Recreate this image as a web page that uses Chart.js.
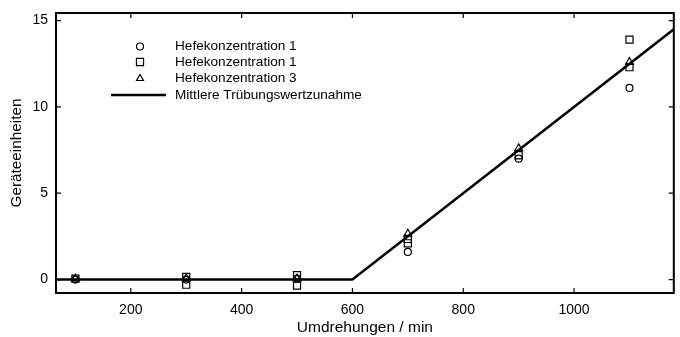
<!DOCTYPE html>
<html lang="de">
<head>
<meta charset="utf-8">
<title>Trübungswert</title>
<script src="https://cdn.jsdelivr.net/npm/chart.js@4/dist/chart.umd.min.js"></script>
<style>
  html, body { margin: 0; padding: 0; background: #fff; }
  #wrap { width: 680px; height: 337px; }
</style>
</head>
<body>
<div id="wrap"><canvas id="chart" width="680" height="337"></canvas></div>
<script>
// Messwerte (Umdrehungen / min -> Geräteeinheiten)
const circleX = [100, 300, 500, 700, 900, 1100];
const circleY = [0, 0, 0.05, 1.6, 7.0, 11.1];

const squareX = [100, 300, 300, 500, 500, 700, 700, 900, 1100, 1100];
const squareY = [0.05, 0.15, -0.3, 0.25, -0.35, 2.35, 2.1, 7.2, 13.9, 12.3];

const triangleX = [100, 300, 500, 700, 900, 1100];
const triangleY = [0.05, 0.05, 0.05, 2.65, 7.6, 12.6];

// mittlere Zunahme: konstant bis 600, dann linear
const trendX = [65, 600, 1180];
const trendY = [0, 0, 14.5];

const xTicks = [200, 400, 600, 800, 1000];
const yTicks = [0, 5, 10, 15];

const labels = ['Hefekonzentration 1', 'Hefekonzentration 1', 'Hefekonzentration 3', 'Mittlere Trübungswertzunahme'];

const FONT = "'Liberation Sans', Arial, Helvetica, sans-serif";

function pts(xs, ys) {
  return xs.map((x, i) => ({ x, y: ys[i] }));
}

function markerSet(label, xs, ys, style, radius) {
  return {
    type: 'scatter',
    label,
    data: pts(xs, ys),
    pointStyle: style,
    pointRadius: radius,
    pointHoverRadius: radius,
    pointBorderColor: '#000',
    pointBackgroundColor: 'rgba(0,0,0,0)',
    pointBorderWidth: 1.2,
    showLine: false
  };
}

// Rahmen mit nach innen zeigenden Strichen auf allen vier Seiten
const frame = {
  id: 'frame',
  afterDatasetsDraw(chart) {
    const { ctx, chartArea: a, scales: { x, y } } = chart;
    const t = 5;
    ctx.save();
    ctx.strokeStyle = '#000';
    ctx.lineWidth = 1.2;
    ctx.beginPath();
    xTicks.forEach(v => {
      const px = x.getPixelForValue(v);
      ctx.moveTo(px, a.bottom); ctx.lineTo(px, a.bottom - t);
      ctx.moveTo(px, a.top); ctx.lineTo(px, a.top + t);
    });
    yTicks.forEach(v => {
      const py = y.getPixelForValue(v);
      ctx.moveTo(a.left, py); ctx.lineTo(a.left + t, py);
      ctx.moveTo(a.right, py); ctx.lineTo(a.right - t, py);
    });
    ctx.stroke();
    ctx.lineWidth = 2;
    ctx.strokeRect(a.left, a.top, a.right - a.left, a.bottom - a.top);
    ctx.restore();
  }
};

// Legende oben links innerhalb der Zeichenfläche
const legendBox = {
  id: 'legendBox',
  afterDraw(chart) {
    const { ctx } = chart;
    const rows = [46.5, 62, 78.5, 95];
    const mx = 140, tx = 175;
    ctx.save();
    ctx.strokeStyle = '#000';
    ctx.fillStyle = 'rgba(0,0,0,0)';
    ctx.lineWidth = 1.2;
    const draw = Chart.helpers.drawPoint;
    draw(ctx, { pointStyle: 'circle', radius: 3.5, borderWidth: 1.2 }, mx, rows[0]);
    draw(ctx, { pointStyle: 'rect', radius: 5, borderWidth: 1.2 }, mx, rows[1]);
    draw(ctx, { pointStyle: 'triangle', radius: 4, borderWidth: 1.2 }, mx, rows[2]);
    ctx.lineWidth = 2.5;
    ctx.beginPath();
    ctx.moveTo(111, rows[3]);
    ctx.lineTo(166, rows[3]);
    ctx.stroke();
    ctx.fillStyle = '#000';
    ctx.font = '13.6px ' + FONT;
    ctx.textBaseline = 'middle';
    ctx.textAlign = 'left';
    labels.forEach((s, i) => ctx.fillText(s, tx, rows[i]));
    ctx.restore();
  }
};

new Chart(document.getElementById('chart'), {
  type: 'scatter',
  data: {
    datasets: [
      {
        type: 'line',
        label: labels[3],
        data: pts(trendX, trendY),
        borderColor: '#000',
        borderWidth: 2.5,
        pointRadius: 0,
        fill: false,
        tension: 0
      },
      markerSet(labels[0], circleX, circleY, 'circle', 3.5),
      markerSet(labels[1], squareX, squareY, 'rect', 5),
      markerSet(labels[2], triangleX, triangleY, 'triangle', 4.5)
    ]
  },
  options: {
    responsive: false,
    animation: false,
    layout: { padding: { top: 13, right: 2, left: 0, bottom: 0 } },
    plugins: {
      legend: { display: false },
      tooltip: { enabled: false }
    },
    scales: {
      x: {
        type: 'linear',
        min: 65,
        max: 1180,
        grid: { display: false, drawTicks: false },
        border: { display: false },
        afterFit: s => { s.height = 44; },
        ticks: {
          stepSize: 200,
          includeBounds: false,
          color: '#000',
          padding: 9,
          callback: v => String(v),
          font: { family: FONT, size: 14 }
        },
        title: {
          display: true,
          text: 'Umdrehungen / min',
          color: '#000',
          padding: { top: 0, bottom: 0 },
          font: { family: FONT, size: 15.5 }
        }
      },
      y: {
        type: 'linear',
        min: -0.78,
        max: 15.44,
        grid: { display: false, drawTicks: false },
        border: { display: false },
        // feste Breite, und die Überstände der Beschriftung nicht einrechnen
        afterFit: s => { s.width = 56; s.paddingTop = 0; s.paddingBottom = 0; },
        ticks: {
          stepSize: 5,
          includeBounds: false,
          color: '#000',
          padding: 8,
          callback: v => String(v),
          font: { family: FONT, size: 14 }
        },
        title: {
          display: true,
          text: 'Geräteeinheiten',
          color: '#000',
          padding: { top: 8, bottom: 0 },
          font: { family: FONT, size: 15.3 }
        }
      }
    }
  },
  plugins: [frame, legendBox]
});
</script>
</body>
</html>
